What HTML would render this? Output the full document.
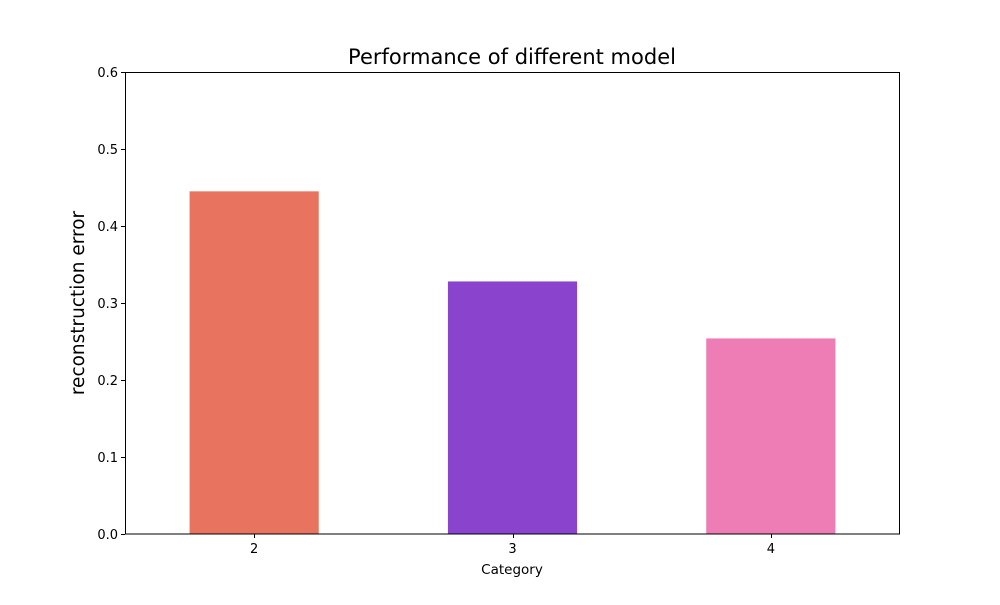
<!DOCTYPE html>
<html><head><meta charset="utf-8"><style>
body{margin:0;background:#fff;font-family:"Liberation Sans","DejaVu Sans",sans-serif}
</style></head><body>
<svg id="chart" width="1000" height="600" xmlns="http://www.w3.org/2000/svg" font-family="'DejaVu Sans','Liberation Sans',sans-serif">
<rect width="1000" height="600" fill="#fff"/>
<text x="512" y="64" font-size="21" text-anchor="middle">Performance of different model</text>
<text transform="translate(84,303) rotate(-90)" font-size="18.5" text-anchor="middle">reconstruction error</text>
<text x="512" y="574" font-size="13.5" text-anchor="middle">Category</text>
<g id="bars"></g><g id="axes"></g>
<rect x="125.5" y="72.5" width="774" height="461.5" fill="none" stroke="#000" stroke-width="1"/>
</svg>
<script>
const categories=["2","3","4"];
const values=[0.445,0.328,0.254];
const colors=["#e8745f","#8a43cc","#ed7db4"];
const yTicks=[0,0.1,0.2,0.3,0.4,0.5,0.6];
const L=125,R=900,T=72,B=534,yMax=0.6;
const step=(R-L)/categories.length;
const x=i=>L+(i+0.5)*step;
const y=v=>B-(v/yMax)*(B-T);
const NS="http://www.w3.org/2000/svg";
const bars=document.getElementById('bars'),axes=document.getElementById('axes');
function mk(tag,attrs,p){const e=document.createElementNS(NS,tag);for(const k in attrs)e.setAttribute(k,attrs[k]);p.appendChild(e);return e;}
values.forEach((v,i)=>{
  const w=step*0.5;
  const r=mk('rect',{x:x(i)-w/2,y:y(v),width:w,height:B-y(v),fill:colors[i]},bars);
  
  
  const xc=Math.round(x(i))+0.5;
  const t=mk('line',{x1:xc,x2:xc,y1:B,y2:B+4,stroke:'#000'},axes);
  
  
  const lb=mk('text',{x:x(i),y:B+19,'font-size':13,'text-anchor':'middle'},axes);
  lb.textContent=categories[i];
  
  
});
yTicks.forEach(v=>{
  const yc=Math.round(y(v))+0.5;
  const t=mk('line',{x1:L-4,x2:L,y1:yc,y2:yc,stroke:'#000'},axes);
  
  
  const lb=mk('text',{x:L-7,y:y(v)+5,'font-size':13,'text-anchor':'end'},axes);
  lb.textContent=v.toFixed(1);
  
  
});
</script>
</body></html>
